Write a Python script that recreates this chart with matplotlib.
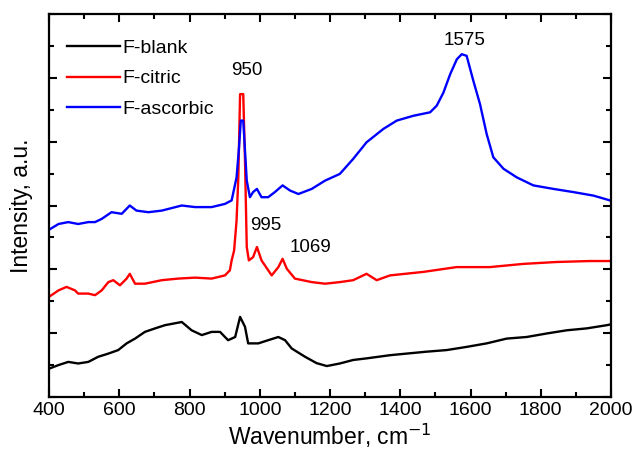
import matplotlib
matplotlib.use("Agg")
import matplotlib.pyplot as plt
from matplotlib.ticker import MultipleLocator, NullFormatter

plt.rcParams['font.family'] = ['Liberation Sans', 'DejaVu Sans']

# ---- data (wavenumber, intensity in arbitrary units) ----
blank_x = [403, 427, 455, 483, 512, 540, 569, 597, 621, 645, 673, 702, 730, 754, 778, 806,
           835, 863, 887, 901, 910, 930, 944, 958, 967, 986, 996, 1024, 1053, 1072, 1091,
           1129, 1162, 1191, 1228, 1266, 1304, 1371, 1418, 1475, 1532, 1589, 1646, 1703,
           1760, 1817, 1874, 1931, 1988, 1997]
blank_y = [0.90, 1.00, 1.10, 1.05, 1.10, 1.26, 1.36, 1.47, 1.68, 1.83, 2.04, 2.15, 2.25, 2.30,
           2.35, 2.09, 1.94, 2.04, 2.04, 1.88, 1.78, 1.88, 2.51, 2.20, 1.68, 1.68, 1.68, 1.78,
           1.88, 1.78, 1.52, 1.26, 1.06, 0.97, 1.05, 1.16, 1.21, 1.31, 1.36, 1.42, 1.47, 1.57,
           1.68, 1.83, 1.88, 1.99, 2.09, 2.15, 2.25, 2.27]

citric_x = [403, 427, 450, 474, 483, 512, 531, 550, 569, 583, 602, 621, 630, 645, 673, 721,
            768, 816, 863, 901, 915, 920, 927, 934, 939, 944, 953, 958, 963, 969, 981, 992,
            1005, 1034, 1053, 1065, 1077, 1100, 1148, 1186, 1228, 1266, 1304, 1333, 1371,
            1466, 1560, 1655, 1750, 1845, 1940, 1997]
citric_y = [3.16, 3.34, 3.45, 3.34, 3.24, 3.24, 3.19, 3.34, 3.60, 3.66, 3.50, 3.71, 3.86, 3.55,
            3.55, 3.66, 3.71, 3.74, 3.71, 3.81, 3.97, 4.28, 4.59, 5.53, 6.88, 9.49, 9.49, 7.41,
            4.70, 4.28, 4.38, 4.70, 4.28, 3.81, 4.07, 4.33, 4.02, 3.71, 3.60, 3.55, 3.60, 3.66,
            3.86, 3.66, 3.81, 3.92, 4.07, 4.07, 4.17, 4.23, 4.26, 4.26]

ascorbic_x = [400, 427, 455, 483, 512, 531, 550, 578, 607, 630, 649, 683, 721, 778, 816, 863,
              901, 920, 934, 941, 946, 953, 958, 963, 972, 981, 992, 1005, 1024, 1043, 1065,
              1086, 1110, 1148, 1186, 1228, 1266, 1304, 1352, 1390, 1437, 1485, 1504, 1523,
              1542, 1561, 1575, 1589, 1608, 1627, 1646, 1665, 1694, 1732, 1779, 1836, 1893,
              1950, 1997]
ascorbic_y = [5.24, 5.42, 5.48, 5.42, 5.48, 5.48, 5.58, 5.79, 5.74, 6.00, 5.84, 5.79, 5.84,
              6.00, 5.95, 5.95, 6.05, 6.16, 6.88, 7.82, 8.66, 8.66, 7.72, 6.78, 6.26, 6.42,
              6.52, 6.26, 6.26, 6.42, 6.63, 6.47, 6.36, 6.52, 6.78, 6.99, 7.46, 7.98, 8.40,
              8.66, 8.81, 8.92, 9.13, 9.54, 10.11, 10.58, 10.74, 10.69, 9.91, 9.18, 8.24, 7.51,
              7.15, 6.88, 6.63, 6.52, 6.42, 6.31, 6.16]

series_labels = ["F-blank", "F-citric", "F-ascorbic"]
peak_labels = ["950", "995", "1069", "1575"]
peak_pos = [(962, 10.23), (1018, 5.36), (1144, 4.67), (1583, 11.17)]

fig = plt.figure(figsize=(6.35, 4.51), dpi=100)
ax = fig.add_axes([49/635, 54/451, 562/635, 383/451])

ax.plot(blank_x, blank_y, color='black', lw=1.7, label=series_labels[0])
ax.plot(citric_x, citric_y, color='#ff0000', lw=1.7, label=series_labels[1])
ax.plot(ascorbic_x, ascorbic_y, color='#0000ff', lw=1.7, label=series_labels[2])

for txt, (px, py) in zip(peak_labels, peak_pos):
    ax.text(px, py, txt, fontsize=13.5, ha='center', va='center')

ax.set_xlim(400, 2000)
ax.set_ylim(0, 12)
ax.xaxis.set_major_locator(MultipleLocator(200))
ax.xaxis.set_minor_locator(MultipleLocator(100))
ax.yaxis.set_major_locator(MultipleLocator(2))
ax.yaxis.set_minor_locator(MultipleLocator(1))
ax.yaxis.set_major_formatter(NullFormatter())
ax.tick_params(which='both', direction='in', top=True, right=True, width=1.5)
ax.tick_params(which='major', length=6, labelsize=14)
ax.tick_params(which='minor', length=3.5)
for s in ax.spines.values():
    s.set_linewidth(1.6)

ax.set_xlabel("Wavenumber, cm$^{-1}$", fontsize=16.5, labelpad=2)
ax.set_ylabel("Intensity, a.u.", fontsize=16.5, labelpad=8)

leg = ax.legend(loc='upper left', bbox_to_anchor=(0.032, 0.935), frameon=False,
                fontsize=14, handlelength=2.75, handletextpad=0.12, labelspacing=0.68,
                borderpad=0, borderaxespad=0)

fig.savefig("out.png", dpi=100)
